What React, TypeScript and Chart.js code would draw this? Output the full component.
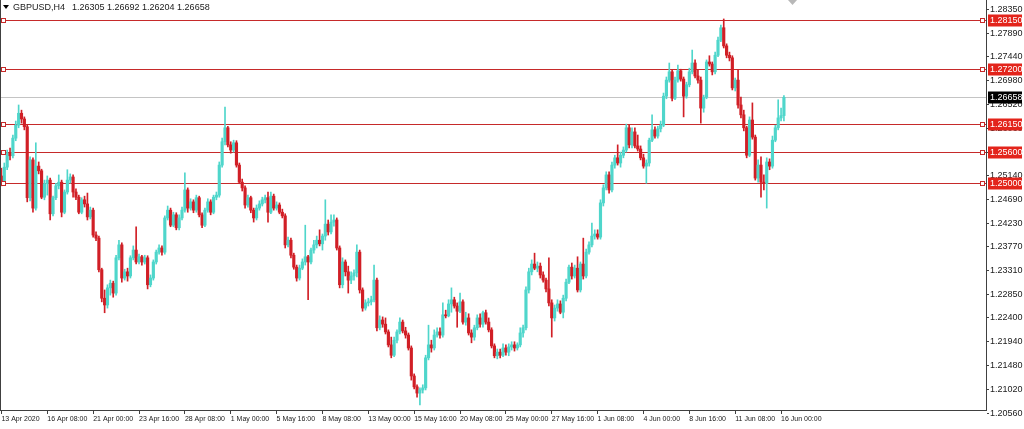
import React, { useEffect, useRef } from 'react';
import { Chart, registerables } from 'chart.js';

Chart.register(...registerables);

// ---- data ----
const xTickLabels = [
  '13 Apr 2020', '16 Apr 08:00', '21 Apr 00:00', '23 Apr 16:00', '28 Apr 08:00', '1 May 00:00',
  '5 May 16:00', '8 May 08:00', '13 May 00:00', '15 May 16:00', '20 May 08:00', '25 May 00:00',
  '27 May 16:00', '1 Jun 08:00', '4 Jun 00:00', '8 Jun 16:00', '11 Jun 08:00', '16 Jun 00:00',
];
const barsPerTick = 16;
const totalSlots = 344;

const opens = [
  1.2514,1.2502,1.2531,1.2558,1.2553,1.2587,1.2612,1.2635,1.2624,1.2609,
  1.2472,1.2545,1.2452,1.2533,1.2524,1.2473,1.2499,1.2506,1.2441,1.2472,
  1.2495,1.2502,1.2444,1.2483,1.2506,1.2512,1.2483,1.2473,1.2444,1.2468,
  1.2460,1.2435,1.2448,1.2400,1.2394,1.2333,1.2278,1.2265,1.2298,1.2307,
  1.2288,1.2356,1.2381,1.2317,1.2329,1.2321,1.2356,1.2371,1.2348,1.2358,
  1.2348,1.2356,1.2304,1.2317,1.2348,1.2367,1.2375,1.2367,1.2433,1.2448,
  1.2419,1.2439,1.2414,1.2433,1.2448,1.2487,1.2452,1.2464,1.2448,1.2472,
  1.2439,1.2419,1.2448,1.2464,1.2444,1.2473,1.2477,1.2535,1.2580,1.2607,
  1.2574,1.2564,1.2578,1.2535,1.2502,1.2491,1.2458,1.2472,1.2448,1.2433,
  1.2452,1.2460,1.2468,1.2472,1.2444,1.2475,1.2452,1.2458,1.2444,1.2437,
  1.2381,1.2390,1.2361,1.2338,1.2317,1.2336,1.2348,1.2358,1.2348,1.2371,
  1.2381,1.2390,1.2383,1.2398,1.2421,1.2406,1.2425,1.2429,1.2375,1.2304,
  1.2348,1.2329,1.2313,1.2321,1.2327,1.2367,1.2294,1.2259,1.2269,1.2271,
  1.2275,1.2313,1.2221,1.2236,1.2228,1.2213,1.2188,1.2168,1.2197,1.2213,
  1.2232,1.2215,1.2207,1.2182,1.2128,1.2107,1.2095,1.2101,1.2105,1.2163,
  1.2188,1.2182,1.2207,1.2213,1.2207,1.2246,1.2244,1.2267,1.2275,1.2263,
  1.2253,1.2271,1.2232,1.2240,1.2211,1.2203,1.2221,1.2240,1.2228,1.2250,
  1.2232,1.2217,1.2186,1.2167,1.2174,1.2168,1.2182,1.2174,1.2184,1.2188,
  1.2182,1.2188,1.2211,1.2221,1.2294,1.2329,1.2344,1.2336,1.2340,1.2323,
  1.2313,1.2296,1.2269,1.2240,1.2259,1.2267,1.2251,1.2278,1.2309,1.2338,
  1.2321,1.2336,1.2294,1.2344,1.2321,1.2367,1.2381,1.2398,1.2402,1.2396,
  1.2462,1.2491,1.2516,1.2487,1.2535,1.2549,1.2539,1.2554,1.2564,1.2607,
  1.2574,1.2599,1.2572,1.2566,1.2549,1.2533,1.2539,1.2583,1.2603,1.2591,
  1.2605,1.2612,1.2668,1.2699,1.2715,1.2664,1.2699,1.2717,1.2701,1.2668,
  1.2690,1.2715,1.2732,1.2707,1.2699,1.2645,1.2666,1.2734,1.2730,1.2715,
  1.2747,1.2776,1.2800,1.2765,1.2747,1.2742,1.2684,1.2699,1.2651,1.2632,
  1.2607,1.2554,1.2622,1.2589,1.2510,1.2535,1.2502,1.2500,1.2541,1.2533,
  1.2583,1.2607,1.2626,1.26305,
];

const closes = [
  1.2502,1.2531,1.2558,1.2553,1.2587,1.2612,1.2635,1.2624,1.2609,1.2472,
  1.2545,1.2452,1.2533,1.2524,1.2473,1.2499,1.2506,1.2441,1.2472,1.2495,
  1.2502,1.2444,1.2483,1.2506,1.2512,1.2483,1.2473,1.2444,1.2468,1.2460,
  1.2435,1.2448,1.2400,1.2394,1.2333,1.2278,1.2265,1.2298,1.2307,1.2288,
  1.2356,1.2381,1.2317,1.2329,1.2321,1.2356,1.2371,1.2348,1.2358,1.2348,
  1.2356,1.2304,1.2317,1.2348,1.2367,1.2375,1.2367,1.2433,1.2448,1.2419,
  1.2439,1.2414,1.2433,1.2448,1.2487,1.2452,1.2464,1.2448,1.2472,1.2439,
  1.2419,1.2448,1.2464,1.2444,1.2473,1.2477,1.2535,1.2580,1.2607,1.2574,
  1.2564,1.2578,1.2535,1.2502,1.2491,1.2458,1.2472,1.2448,1.2433,1.2452,
  1.2460,1.2468,1.2472,1.2444,1.2475,1.2452,1.2458,1.2444,1.2437,1.2381,
  1.2390,1.2361,1.2338,1.2317,1.2336,1.2348,1.2358,1.2348,1.2371,1.2381,
  1.2390,1.2383,1.2398,1.2421,1.2406,1.2425,1.2429,1.2375,1.2304,1.2348,
  1.2329,1.2313,1.2321,1.2327,1.2367,1.2294,1.2259,1.2269,1.2271,1.2275,
  1.2313,1.2221,1.2236,1.2228,1.2213,1.2188,1.2168,1.2197,1.2213,1.2232,
  1.2215,1.2207,1.2182,1.2128,1.2107,1.2095,1.2101,1.2105,1.2163,1.2188,
  1.2182,1.2207,1.2213,1.2207,1.2246,1.2244,1.2267,1.2275,1.2263,1.2253,
  1.2271,1.2232,1.2240,1.2211,1.2203,1.2221,1.2240,1.2228,1.2250,1.2232,
  1.2217,1.2186,1.2167,1.2174,1.2168,1.2182,1.2174,1.2184,1.2188,1.2182,
  1.2188,1.2211,1.2221,1.2294,1.2329,1.2344,1.2336,1.2340,1.2323,1.2313,
  1.2296,1.2269,1.2240,1.2259,1.2267,1.2251,1.2278,1.2309,1.2338,1.2321,
  1.2336,1.2294,1.2344,1.2321,1.2367,1.2381,1.2398,1.2402,1.2396,1.2462,
  1.2491,1.2516,1.2487,1.2535,1.2549,1.2539,1.2554,1.2564,1.2607,1.2574,
  1.2599,1.2572,1.2566,1.2549,1.2533,1.2539,1.2583,1.2603,1.2591,1.2605,
  1.2612,1.2668,1.2699,1.2715,1.2664,1.2699,1.2717,1.2701,1.2668,1.2690,
  1.2715,1.2732,1.2707,1.2699,1.2645,1.2666,1.2734,1.2730,1.2715,1.2747,
  1.2776,1.2800,1.2765,1.2747,1.2742,1.2684,1.2699,1.2651,1.2632,1.2607,
  1.2554,1.2622,1.2589,1.2510,1.2535,1.2502,1.2500,1.2541,1.2533,1.2583,
  1.2607,1.2626,1.26305,1.26658,
];

const highs = [
  1.2529,1.2539,1.2564,1.2568,1.2593,1.2620,1.2651,1.2641,1.2628,1.2612,
  1.2551,1.2549,1.2578,1.2541,1.2527,1.2506,1.2514,1.2510,1.2475,1.2500,
  1.2516,1.2506,1.2487,1.2526,1.2518,1.2516,1.2489,1.2477,1.2472,1.2475,
  1.2481,1.2454,1.2452,1.2406,1.2398,1.2336,1.2294,1.2304,1.2313,1.2311,
  1.2361,1.2390,1.2385,1.2334,1.2336,1.2360,1.2379,1.2416,1.2363,1.2361,
  1.2361,1.2360,1.2323,1.2352,1.2371,1.2381,1.2379,1.2437,1.2456,1.2452,
  1.2444,1.2443,1.2439,1.2454,1.2520,1.2491,1.2470,1.2468,1.2477,1.2475,
  1.2443,1.2452,1.2470,1.2468,1.2477,1.2483,1.2541,1.2587,1.2647,1.2610,
  1.2580,1.2583,1.2582,1.2539,1.2508,1.2495,1.2477,1.2475,1.2452,1.2458,
  1.2466,1.2473,1.2477,1.2483,1.2483,1.2479,1.2464,1.2462,1.2450,1.2441,
  1.2396,1.2394,1.2365,1.2342,1.2342,1.2354,1.2419,1.2361,1.2375,1.2390,
  1.2398,1.2410,1.2402,1.2468,1.2429,1.2439,1.2439,1.2433,1.2379,1.2356,
  1.2352,1.2340,1.2329,1.2333,1.2381,1.2371,1.2298,1.2275,1.2278,1.2282,
  1.2342,1.2317,1.2244,1.2242,1.2240,1.2217,1.2203,1.2203,1.2217,1.2240,
  1.2236,1.2222,1.2211,1.2186,1.2132,1.2111,1.2105,1.2111,1.2168,1.2226,
  1.2197,1.2217,1.2221,1.2221,1.2269,1.2255,1.2275,1.2298,1.2280,1.2269,
  1.2288,1.2275,1.2251,1.2248,1.2217,1.2226,1.2246,1.2248,1.2253,1.2255,
  1.2240,1.2221,1.2190,1.2180,1.2180,1.2190,1.2188,1.2190,1.2194,1.2194,
  1.2192,1.2221,1.2226,1.2300,1.2336,1.2352,1.2365,1.2348,1.2346,1.2329,
  1.2317,1.2356,1.2275,1.2265,1.2275,1.2273,1.2284,1.2315,1.2342,1.2346,
  1.2342,1.2358,1.2348,1.2394,1.2373,1.2387,1.2423,1.2410,1.2410,1.2468,
  1.2497,1.2522,1.2522,1.2541,1.2554,1.2574,1.2560,1.2570,1.2614,1.2612,
  1.2607,1.2607,1.2593,1.2572,1.2556,1.2545,1.2587,1.2632,1.2609,1.2610,
  1.2620,1.2674,1.2705,1.2732,1.2719,1.2705,1.2728,1.2720,1.2705,1.2695,
  1.2722,1.2757,1.2738,1.2719,1.2705,1.2670,1.2738,1.2746,1.2734,1.2753,
  1.2782,1.2805,1.2817,1.2769,1.2753,1.2746,1.2703,1.2719,1.2666,1.2641,
  1.2610,1.2628,1.2655,1.2593,1.2545,1.2551,1.2516,1.2549,1.2547,1.2591,
  1.2612,1.2661,1.2645,1.26692,
];

const lows = [
  1.2495,1.2499,1.2526,1.2545,1.2549,1.2582,1.2607,1.2616,1.2603,1.2464,
  1.2466,1.2444,1.2448,1.2518,1.2470,1.2468,1.2477,1.2429,1.2437,1.2468,
  1.2489,1.2435,1.2441,1.2479,1.2500,1.2473,1.2468,1.2441,1.2441,1.2454,
  1.2429,1.2431,1.2396,1.2389,1.2329,1.2271,1.2250,1.2259,1.2284,1.2280,
  1.2284,1.2352,1.2309,1.2313,1.2311,1.2317,1.2352,1.2344,1.2344,1.2342,
  1.2344,1.2296,1.2300,1.2313,1.2344,1.2363,1.2361,1.2363,1.2429,1.2416,
  1.2416,1.2410,1.2410,1.2429,1.2444,1.2444,1.2448,1.2443,1.2444,1.2435,
  1.2414,1.2416,1.2444,1.2439,1.2441,1.2468,1.2473,1.2531,1.2574,1.2570,
  1.2558,1.2560,1.2531,1.2499,1.2485,1.2452,1.2454,1.2443,1.2425,1.2429,
  1.2448,1.2456,1.2462,1.2425,1.2441,1.2448,1.2448,1.2441,1.2433,1.2375,
  1.2377,1.2356,1.2334,1.2311,1.2313,1.2333,1.2342,1.2275,1.2344,1.2365,
  1.2375,1.2379,1.2371,1.2390,1.2400,1.2402,1.2417,1.2371,1.2298,1.2298,
  1.2321,1.2288,1.2306,1.2313,1.2319,1.2288,1.2253,1.2255,1.2263,1.2265,
  1.2271,1.2215,1.2217,1.2222,1.2209,1.2184,1.2163,1.2165,1.2192,1.2209,
  1.2211,1.2201,1.2178,1.2120,1.2103,1.2087,1.2072,1.2095,1.2101,1.2159,
  1.2174,1.2178,1.2203,1.2201,1.2203,1.2240,1.2242,1.2251,1.2259,1.2222,
  1.2250,1.2228,1.2226,1.2207,1.2192,1.2197,1.2217,1.2222,1.2222,1.2228,
  1.2213,1.2182,1.2163,1.2161,1.2163,1.2165,1.2168,1.2167,1.2178,1.2176,
  1.2178,1.2184,1.2203,1.2217,1.2288,1.2323,1.2333,1.2329,1.2317,1.2309,
  1.2290,1.2263,1.2203,1.2234,1.2253,1.2248,1.2240,1.2273,1.2306,1.2315,
  1.2317,1.2290,1.2290,1.2315,1.2317,1.2363,1.2377,1.2392,1.2392,1.2392,
  1.2456,1.2487,1.2481,1.2483,1.2529,1.2535,1.2531,1.2549,1.2560,1.2568,
  1.2568,1.2568,1.2562,1.2545,1.2529,1.2500,1.2533,1.2580,1.2587,1.2587,
  1.2599,1.2609,1.2663,1.2695,1.2659,1.2661,1.2695,1.2697,1.2628,1.2664,
  1.2686,1.2711,1.2703,1.2693,1.2616,1.2637,1.2663,1.2726,1.2709,1.2711,
  1.2744,1.2773,1.2761,1.2742,1.2736,1.2680,1.2678,1.2645,1.2626,1.2601,
  1.2549,1.2551,1.2585,1.2506,1.2502,1.2473,1.2487,1.2452,1.2526,1.2529,
  1.2580,1.2603,1.2620,1.26204,
];

const yTickValues = [
  1.2835, 1.2789, 1.2744, 1.2698, 1.2652, 1.2606, 1.256, 1.2514, 1.2469,
  1.2423, 1.2377, 1.2331, 1.2285, 1.224, 1.2194, 1.2148, 1.2102, 1.2056,
];
const levelLines = [1.2815, 1.272, 1.2615, 1.256, 1.25];
const bidPrice = 1.26658;
const yMin = 1.20623;
const yMax = 1.28536;
const symbolText = 'GBPUSD,H4';
const ohlcText = '1.26305 1.26692 1.26204 1.26658';

// ---- style ----
const BULL = '#4fd6cb';
const BEAR = '#d11f26';
const LEVEL = '#c62a2a';
const BOX_RED = '#e3241b';
const FONT = '"Liberation Sans", Arial, sans-serif';
const TEXT = '#1a1a1a';

const categoryLabels: string[] = Array.from({ length: totalSlots }, (_, i) =>
  i % barsPerTick === 0 && i / barsPerTick < xTickLabels.length ? xTickLabels[i / barsPerTick] : ''
);

const overlayPlugin = {
  id: 'mt4Overlay',
  beforeDatasetsDraw(chart: any) {
    const { ctx, chartArea, scales } = chart;
    const y = scales.y;
    ctx.save();
    ctx.lineWidth = 1;
    const by = Math.round(y.getPixelForValue(bidPrice)) + 0.5;
    ctx.strokeStyle = '#c4c4c4';
    ctx.beginPath();
    ctx.moveTo(chartArea.left, by);
    ctx.lineTo(chartArea.right, by);
    ctx.stroke();
    ctx.strokeStyle = LEVEL;
    levelLines.forEach((v) => {
      const py = Math.round(y.getPixelForValue(v)) + 0.5;
      ctx.beginPath();
      ctx.moveTo(chartArea.left, py);
      ctx.lineTo(chartArea.right, py);
      ctx.stroke();
    });
    ctx.restore();
  },
  afterDraw(chart: any) {
    const { ctx, chartArea, scales } = chart;
    const y = scales.y;
    ctx.save();
    ctx.strokeStyle = '#404040';
    ctx.lineWidth = 1;
    ctx.beginPath();
    ctx.moveTo(0.5, 0);
    ctx.lineTo(0.5, chartArea.bottom);
    ctx.stroke();

    ctx.font = `9px ${FONT}`;
    ctx.textBaseline = 'middle';
    ctx.textAlign = 'left';
    levelLines.forEach((v) => {
      const py = Math.round(y.getPixelForValue(v)) + 0.5;
      ctx.fillStyle = '#ffffff';
      ctx.strokeStyle = LEVEL;
      ctx.fillRect(1.5, py - 2, 4, 4);
      ctx.strokeRect(1.5, py - 2, 4, 4);
      ctx.fillRect(chartArea.right - 5.5, py - 2, 4, 4);
      ctx.strokeRect(chartArea.right - 5.5, py - 2, 4, 4);
      ctx.fillStyle = BOX_RED;
      ctx.fillRect(chartArea.right + 2, py - 6, 34, 12);
      ctx.fillStyle = '#ffffff';
      ctx.fillText(v.toFixed(5), chartArea.right + 4, py + 0.5);
    });
    const by = Math.round(y.getPixelForValue(bidPrice)) + 0.5;
    ctx.fillStyle = '#000000';
    ctx.fillRect(chartArea.right + 2, by - 6, 34, 12);
    ctx.fillStyle = '#ffffff';
    ctx.fillText(bidPrice.toFixed(5), chartArea.right + 4, by + 0.5);

    ctx.fillStyle = '#000000';
    ctx.beginPath();
    ctx.moveTo(3, 5);
    ctx.lineTo(9, 5);
    ctx.lineTo(6, 9);
    ctx.closePath();
    ctx.fill();
    ctx.font = `9px ${FONT}`;
    ctx.fillStyle = TEXT;
    ctx.fillText(symbolText, 13, 7.5);
    const w = ctx.measureText(symbolText).width;
    ctx.fillText(ohlcText, 13 + w + 7, 7.5);

    ctx.fillStyle = '#b8b8b8';
    ctx.beginPath();
    ctx.moveTo(788, 0);
    ctx.lineTo(797, 0);
    ctx.lineTo(792.5, 5);
    ctx.closePath();
    ctx.fill();
    ctx.restore();
  },
};

export default function App() {
  const ref = useRef<HTMLCanvasElement | null>(null);

  useEffect(() => {
    if (!ref.current) return;
    const colors = closes.map((c, i) => (c >= opens[i] ? BULL : BEAR));
    const chart = new Chart(ref.current, {
      type: 'bar',
      data: {
        labels: categoryLabels,
        datasets: [
          {
            label: 'body',
            data: opens.map((o, i) => [o, closes[i]]),
            backgroundColor: colors,
            borderWidth: 0,
            barThickness: 2.5,
            grouped: false,
          } as any,
          {
            label: 'wick',
            data: lows.map((l, i) => [l, highs[i]]),
            backgroundColor: colors,
            borderWidth: 0,
            barThickness: 1,
            grouped: false,
          } as any,
        ],
      },
      options: {
        animation: false,
        responsive: false,
        maintainAspectRatio: false,
        devicePixelRatio: 1,
        layout: { padding: 0 },
        plugins: {
          legend: { display: false },
          tooltip: { enabled: false },
          title: { display: false },
        },
        scales: {
          x: {
            type: 'category',
            offset: true,
            grid: { drawOnChartArea: false, drawTicks: true, tickLength: 4, offset: false, color: '#404040' },
            border: { display: true, color: '#404040' },
            ticks: {
              autoSkip: false,
              maxRotation: 0,
              minRotation: 0,
              align: 'start',
              padding: 1,
              color: TEXT,
              font: { family: FONT, size: 7 },
              callback: (v: any) => categoryLabels[v as number],
            },
            afterBuildTicks: (s: any) => {
              s.ticks = s.ticks.filter((t: any) => categoryLabels[t.value] !== '');
            },
            afterFit: (s: any) => {
              s.height = 19;
              s.paddingLeft = 0;
              s.paddingRight = 0;
            },
          },
          y: {
            type: 'linear',
            position: 'right',
            min: yMin,
            max: yMax,
            grid: { drawOnChartArea: false, drawTicks: true, tickLength: 3, color: '#404040' },
            border: { display: true, color: '#404040' },
            ticks: {
              autoSkip: false,
              padding: 1,
              color: TEXT,
              font: { family: FONT, size: 9 },
              callback: (v: any) => Number(v).toFixed(5),
            },
            afterBuildTicks: (s: any) => {
              s.ticks = yTickValues.map((v) => ({ value: v }));
            },
            afterFit: (s: any) => {
              s.width = 38;
              s.paddingTop = 0;
              s.paddingBottom = 0;
            },
          },
        },
      } as any,
      plugins: [overlayPlugin],
    });
    return () => chart.destroy();
  }, []);

  return (
    <div style={{ position: 'absolute', left: 0, top: 0, width: 1024, height: 429, background: '#fff' }}>
      <canvas ref={ref} width={1024} height={429} style={{ width: 1024, height: 429, display: 'block' }} />
    </div>
  );
}
